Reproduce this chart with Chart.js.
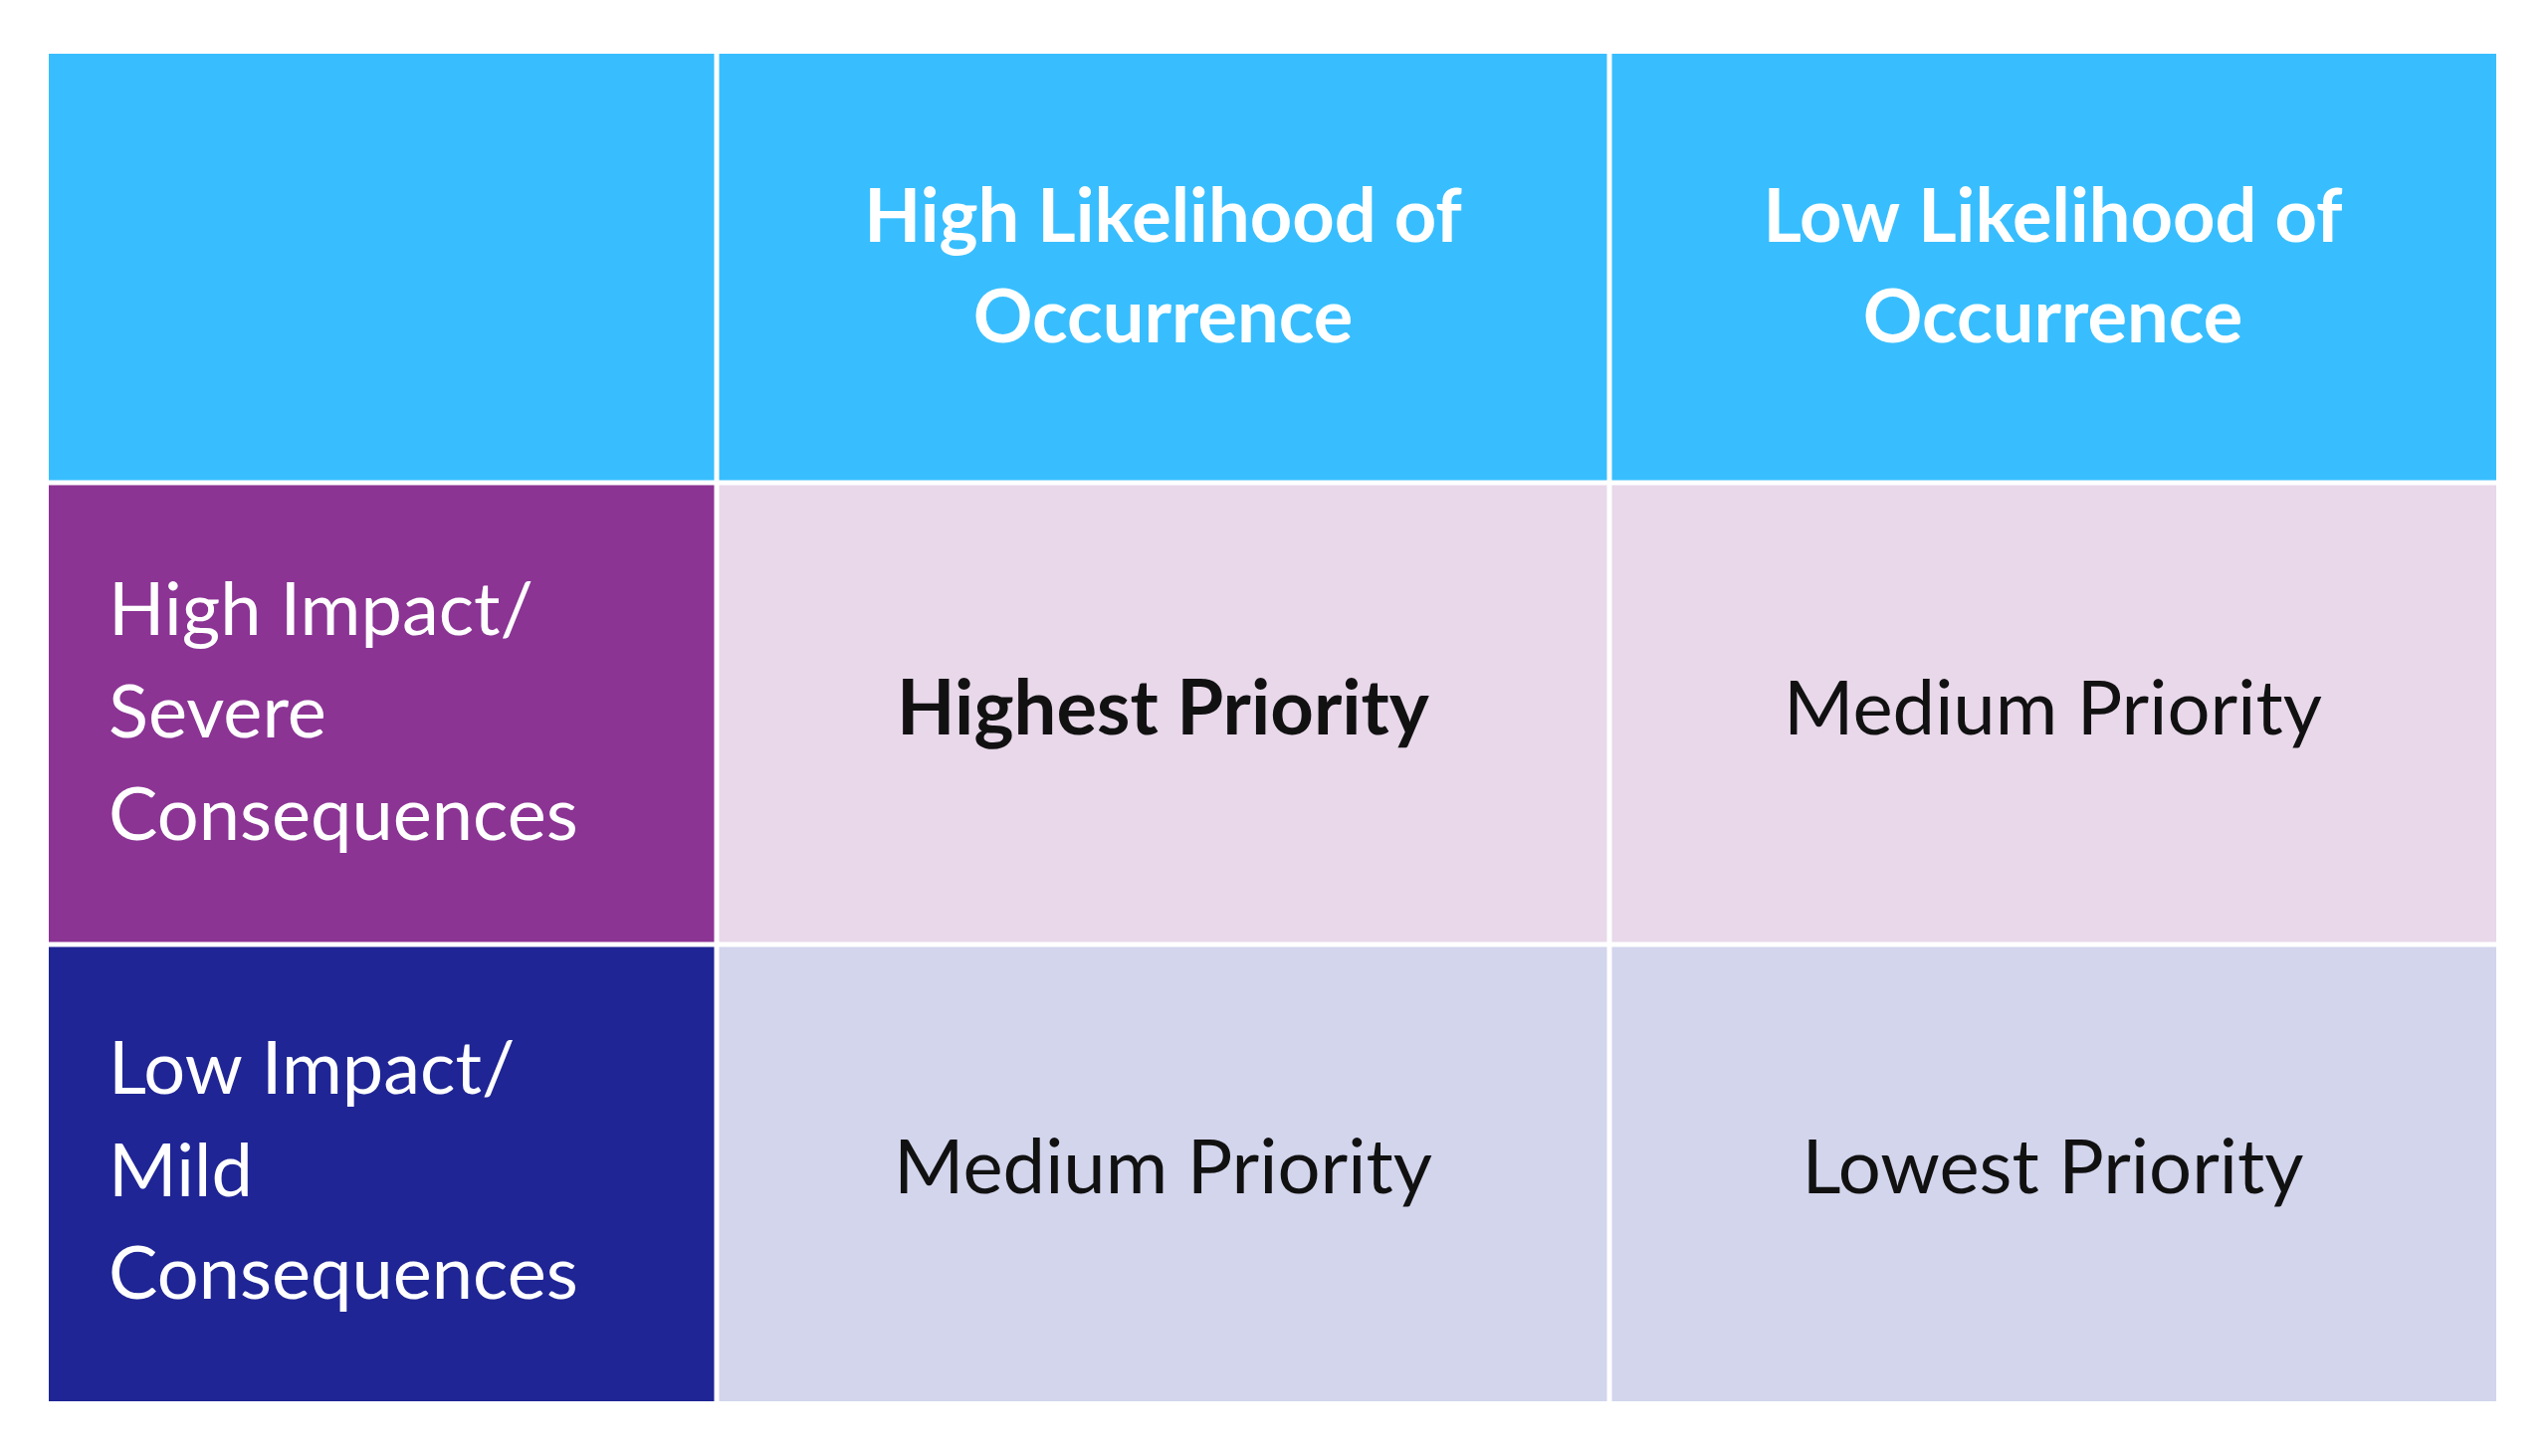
<!DOCTYPE html>
<html><head><meta charset="utf-8">
<script src="https://cdn.jsdelivr.net/npm/chart.js@4"></script>
<style>html,body{margin:0;padding:0;background:#fff}#wrap{width:2560px;height:1463px}</style>
</head><body><div id="wrap"><canvas id="c"></canvas></div>
<script>
const colEdges = [0, 671, 1568, 2459];
const rowEdges = [0, 431, 895, 1354];
const colHeaders = ["", "High Likelihood of\nOccurrence", "Low Likelihood of\nOccurrence"];
const rowHeaders = ["High Impact/\nSevere\nConsequences", "Low Impact/\nMild\nConsequences"];
const cellTexts = [["Highest Priority", "Medium Priority"], ["Medium Priority", "Lowest Priority"]];
const cellBold = [[true, false], [false, false]];
const headerColor = "#38BEFE";
const rowColors = ["#8B3494", "#1F2595"];
const cellColors = ["#E8D8EA", "#D2D5EC"];

const FONT = "Lato";
const gridPlugin = {
  id: 'grid',
  beforeDatasetsDraw(chart) {
    const ctx = chart.ctx, xs = chart.scales.x, ys = chart.scales.y;
    const g = 2.5;
    function cell(c, r, color) {
      const x0 = xs.getPixelForValue(colEdges[c]), x1 = xs.getPixelForValue(colEdges[c+1]);
      const y0 = ys.getPixelForValue(rowEdges[r]), y1 = ys.getPixelForValue(rowEdges[r+1]);
      ctx.fillStyle = color;
      ctx.fillRect(x0 + (c?g:0), y0 + (r?g:0), x1 - x0 - (c?g:0) - (c<2?g:0), y1 - y0 - (r?g:0) - (r<2?g:0));
      return {x0, x1, y0, y1};
    }
    ctx.save();
    ctx.textBaseline = 'middle';
    for (let c = 0; c < 3; c++) {
      const b = cell(c, 0, headerColor);
      const lines = colHeaders[c].split("\n").filter(s => s);
      ctx.fillStyle = '#fff'; ctx.font = `bold 74px ${FONT}`; ctx.textAlign = 'center';
      const cy = (b.y0 + b.y1) / 2, lh = 101;
      lines.forEach((t, i) => ctx.fillText(t, (b.x0 + b.x1) / 2, cy + (i - (lines.length - 1) / 2) * lh));
    }
    for (let r = 0; r < 2; r++) {
      const b = cell(0, r + 1, rowColors[r]);
      const lines = rowHeaders[r].split("\n");
      ctx.fillStyle = '#fff'; ctx.font = `74px ${FONT}`; ctx.textAlign = 'left';
      const cy = (b.y0 + b.y1) / 2, lh = 103;
      lines.forEach((t, i) => ctx.fillText(t, b.x0 + 60, cy + (i - 1) * lh));
      for (let c = 0; c < 2; c++) {
        const bb = cell(c + 1, r + 1, cellColors[r]);
        ctx.fillStyle = '#111'; ctx.textAlign = 'center';
        ctx.font = `${cellBold[r][c] ? 'bold ' : ''}76px ${FONT}`;
        ctx.fillText(cellTexts[r][c], (bb.x0 + bb.x1) / 2, (bb.y0 + bb.y1) / 2 - 4);
      }
    }
    ctx.restore();
  }
};

new Chart(document.getElementById('c'), {
  type: 'scatter',
  data: { datasets: [{ data: [], pointRadius: 0 }] },
  options: {
    responsive: true, maintainAspectRatio: false, animation: false,
    layout: { padding: { left: 49, right: 52, top: 54, bottom: 55 } },
    plugins: { legend: { display: false }, tooltip: { enabled: false } },
    scales: {
      x: { type: 'linear', min: colEdges[0], max: colEdges[3], display: false },
      y: { type: 'linear', min: rowEdges[0], max: rowEdges[3], reverse: true, display: false }
    }
  },
  plugins: [gridPlugin]
});
</script></body></html>
